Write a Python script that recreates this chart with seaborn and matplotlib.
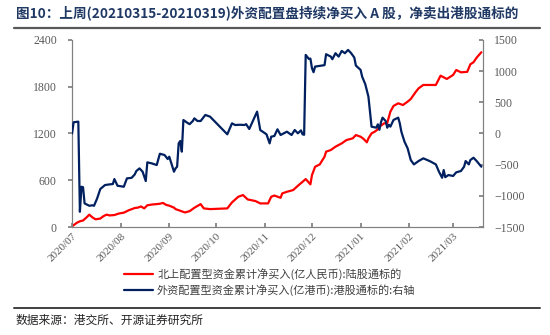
import matplotlib
matplotlib.use("Agg")
import matplotlib.pyplot as plt
import matplotlib.dates as mdates
from matplotlib.lines import Line2D
import seaborn as sns
import pandas as pd

# ---------------- data ----------------
north_dates = [
    "2020-07-01", "2020-07-04", "2020-07-06", "2020-07-08", "2020-07-10", "2020-07-12",
    "2020-07-14", "2020-07-16", "2020-07-19", "2020-07-21", "2020-07-23", "2020-07-25",
    "2020-07-28", "2020-07-31", "2020-08-03", "2020-08-06", "2020-08-08", "2020-08-10",
    "2020-08-12", "2020-08-14", "2020-08-16", "2020-08-18", "2020-08-21", "2020-08-24",
    "2020-08-26", "2020-08-28", "2020-08-30", "2020-09-01", "2020-09-04", "2020-09-05",
    "2020-09-11", "2020-09-14", "2020-09-17", "2020-09-21", "2020-09-23", "2020-09-27",
    "2020-10-08", "2020-10-11", "2020-10-15", "2020-10-18", "2020-10-21", "2020-10-26",
    "2020-10-29", "2020-11-03", "2020-11-05", "2020-11-07", "2020-11-11", "2020-11-12",
    "2020-11-15", "2020-11-19", "2020-11-22", "2020-11-25", "2020-11-27", "2020-11-30",
    "2020-12-01", "2020-12-03", "2020-12-06", "2020-12-07", "2020-12-09", "2020-12-10",
    "2020-12-13", "2020-12-16", "2020-12-20", "2020-12-23", "2020-12-27", "2020-12-29",
    "2021-01-01", "2021-01-03", "2021-01-05", "2021-01-06", "2021-01-08", "2021-01-10",
    "2021-01-12", "2021-01-13", "2021-01-16", "2021-01-18", "2021-01-20", "2021-01-22",
    "2021-01-25", "2021-01-28", "2021-01-31", "2021-02-02", "2021-02-05", "2021-02-07",
    "2021-02-10", "2021-02-18", "2021-02-21", "2021-02-23", "2021-02-25", "2021-03-01",
    "2021-03-03", "2021-03-06", "2021-03-10", "2021-03-12", "2021-03-14", "2021-03-16",
    "2021-03-19",
]
north_values = [
    10, 55, 75, 85, 120, 160,
    125, 100, 110, 140, 160, 150,
    155, 175, 185, 215, 230, 245,
    250, 265, 240, 280, 290, 295,
    300, 310, 285, 275, 250, 231,
    188, 205, 248, 295, 240, 231,
    240, 317, 389, 411, 355, 334,
    304, 304, 389, 405, 376, 432,
    453, 475, 530, 581, 616, 548,
    667, 774, 804, 838, 902, 967,
    988, 1031, 1074, 1116, 1138, 1180,
    1159, 1129, 1087, 1138, 1202, 1223,
    1253, 1287, 1330, 1335, 1480, 1553,
    1587, 1565, 1608, 1642, 1728, 1779,
    1822, 1822, 1941, 1920, 1899, 1950,
    2014, 1984, 1990, 2087, 2113, 2172,
    2241,
]

south_dates = [
    "2020-07-01", "2020-07-02", "2020-07-05", "2020-07-06", "2020-07-07", "2020-07-08",
    "2020-07-09", "2020-07-12", "2020-07-14", "2020-07-15", "2020-07-17", "2020-07-19",
    "2020-07-22", "2020-07-25", "2020-07-27", "2020-07-28", "2020-07-30", "2020-08-03",
    "2020-08-05", "2020-08-08", "2020-08-10", "2020-08-11", "2020-08-13", "2020-08-15",
    "2020-08-17", "2020-08-18", "2020-08-21", "2020-08-24", "2020-08-26", "2020-08-29",
    "2020-08-31", "2020-09-01", "2020-09-02", "2020-09-04", "2020-09-05", "2020-09-06",
    "2020-09-07", "2020-09-08", "2020-09-09", "2020-09-10", "2020-09-13", "2020-09-14",
    "2020-09-16", "2020-09-17", "2020-09-19", "2020-09-21", "2020-09-24", "2020-09-27",
    "2020-10-08", "2020-10-11", "2020-10-13", "2020-10-16", "2020-10-19", "2020-10-20",
    "2020-10-22", "2020-10-27", "2020-10-29", "2020-11-02", "2020-11-04", "2020-11-05",
    "2020-11-07", "2020-11-09", "2020-11-11", "2020-11-15", "2020-11-18", "2020-11-20",
    "2020-11-22", "2020-11-24", "2020-11-25", "2020-11-26", "2020-11-27", "2020-11-29",
    "2020-11-30", "2020-12-01", "2020-12-02", "2020-12-03", "2020-12-07", "2020-12-09",
    "2020-12-10", "2020-12-13", "2020-12-14", "2020-12-16", "2020-12-18", "2020-12-20",
    "2020-12-22", "2020-12-24", "2020-12-26", "2020-12-28", "2020-12-29", "2021-01-01",
    "2021-01-02", "2021-01-04", "2021-01-06", "2021-01-07", "2021-01-08", "2021-01-11",
    "2021-01-12", "2021-01-13", "2021-01-14", "2021-01-15", "2021-01-17", "2021-01-18",
    "2021-01-19", "2021-01-20", "2021-01-22", "2021-01-25", "2021-01-26", "2021-01-27",
    "2021-01-29", "2021-01-31", "2021-02-02", "2021-02-04", "2021-02-07", "2021-02-10",
    "2021-02-14", "2021-02-18", "2021-02-20", "2021-02-22", "2021-02-23", "2021-02-24",
    "2021-02-26", "2021-03-01", "2021-03-03", "2021-03-06", "2021-03-08", "2021-03-09",
    "2021-03-11", "2021-03-12", "2021-03-14", "2021-03-16", "2021-03-19",
]
south_values = [
    0, 180, 190, -1254, -853, -860,
    -1120, -1158, -1150, -1158, -1040, -890,
    -826, -815, -810, -730, -837, -853,
    -719, -710, -655, -601, -559, -612,
    -762, -462, -480, -505, -324, -345,
    -409, -372, -452, -612, -559, -532,
    -158, -120, -291, 216, 163, 150,
    200, 243, 200, 200, 297, 270,
    -13, 163, 136, 140, 136, 150,
    72, 350, 56, -13, -158, -51,
    -40, 67, -24, 29, -24, 56,
    3, 50, -13, -20, 1259, 1195,
    1200, 1046, 982, 1072, 1088, 1095,
    1270, 1232, 1190, 1286, 1232, 1323,
    1286, 1339, 1286, 1216, 1088, 1019,
    911, 789, 590, 350, 109, 93,
    147, 60, 180, 254, 200, 93,
    140, 110, 217, 254, 163, 29,
    -131, -238, -425, -495, -441, -398,
    -441, -495, -613, -709, -586, -700,
    -666, -680, -622, -601, -532, -441,
    -495, -425, -388, -441, -532,
]

left_ticks = [0, 600, 1200, 1800, 2400]
right_ticks = [-1500, -1000, -500, 0, 500, 1000, 1500]

title_text = "图10：上周(20210315-20210319)外资配置盘持续净买入 A 股，净卖出港股通标的"
label_north = "北上配置型资金累计净买入(亿人民币):陆股通标的"
label_south = "外资配置型资金累计净买入(亿港币):港股通标的:右轴"
source_text = "数据来源：港交所、开源证券研究所"

# ---------------- frames ----------------
df_n = pd.DataFrame({"date": pd.to_datetime(north_dates), "value": north_values})
df_s = pd.DataFrame({"date": pd.to_datetime(south_dates), "value": south_values})

sns.set_theme(style="white")
cjk = ["Noto Sans CJK SC", "DejaVu Sans"]
plt.rcParams["font.family"] = cjk

RED = "#FF0000"
NAVY = "#002060"
GRAY = "#595959"

fig = plt.figure(figsize=(5.5, 3.35), dpi=100)
ax = fig.add_axes([0.131, 0.322, 0.747, 0.559])
ax2 = ax.twinx()

sns.lineplot(data=df_n, x="date", y="value", ax=ax, color=RED, linewidth=1.6, zorder=3)
sns.lineplot(data=df_s, x="date", y="value", ax=ax2, color=NAVY, linewidth=1.6, zorder=3)

ax.set_xlim(pd.Timestamp("2020-07-01"), pd.Timestamp("2021-03-20"))
ax.set_ylim(0, 2400)
ax2.set_ylim(-1500, 1500)
ax.set_yticks(left_ticks)
ax2.set_yticks(right_ticks)
ax.set_xlabel("")
ax.set_ylabel("")
ax2.set_ylabel("")

ax.xaxis.set_major_locator(mdates.MonthLocator())
ax.xaxis.set_major_formatter(mdates.DateFormatter("%Y/%m"))

serif = "Liberation Serif"
for a in (ax, ax2):
    a.spines["top"].set_visible(False)
    for s in ("left", "right", "bottom"):
        a.spines[s].set_color("#808080")
        a.spines[s].set_linewidth(0.8)
    a.grid(False)

ax.tick_params(axis="y", which="major", direction="out", length=3, color="#808080",
               labelsize=8.5, labelcolor=GRAY, left=True, pad=8)
ax2.tick_params(axis="y", which="major", direction="in", length=3, color="#808080",
                labelsize=8.5, labelcolor=GRAY, right=True, pad=8)
ax.tick_params(axis="x", which="major", direction="in", length=3, color="#808080",
               labelsize=8, labelcolor=GRAY, bottom=True, pad=3)
for lab in ax.get_yticklabels() + ax2.get_yticklabels():
    lab.set_fontfamily(serif)
for lab in ax2.get_yticklabels():
    lab.set_horizontalalignment("left")
for lab in ax.get_xticklabels():
    lab.set_fontfamily(serif)
    lab.set_rotation(45)
    lab.set_horizontalalignment("right")
    lab.set_rotation_mode("anchor")

# title + rules
fig.text(0.029, 0.962, title_text, fontsize=9.8, fontweight="bold", color="#1F3864",
         family=cjk, va="center", ha="left")
fig.add_artist(Line2D([0.025, 0.982], [0.917, 0.917], color="#595959", linewidth=1.6))
fig.add_artist(Line2D([0.025, 0.982], [0.081, 0.081], color="#404040", linewidth=1.4))
fig.text(0.029, 0.045, source_text, fontsize=8.5, color="#222222", family=cjk,
         va="center", ha="left")

handles = [Line2D([], [], color=RED, linewidth=1.6),
           Line2D([], [], color=NAVY, linewidth=1.6)]
leg = fig.legend(handles, [label_north, label_south], loc="upper left",
                 bbox_to_anchor=(0.225, 0.198), frameon=False, fontsize=8,
                 handlelength=2.6, handletextpad=0.4, labelspacing=0.35,
                 borderpad=0.0, borderaxespad=0.0)
for t in leg.get_texts():
    t.set_color("#404040")

fig.savefig("out.png", dpi=100)
